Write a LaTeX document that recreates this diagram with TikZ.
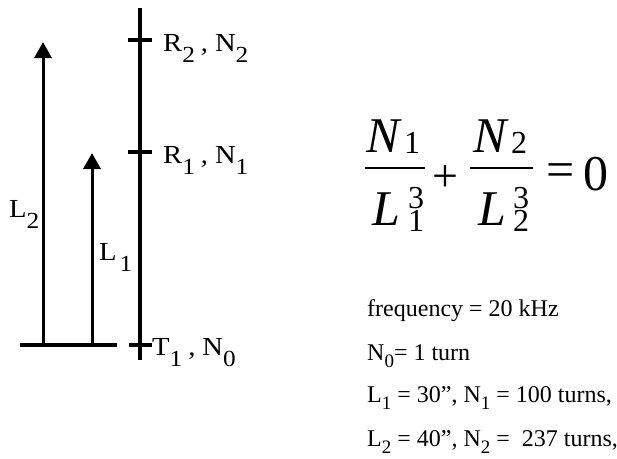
\documentclass[tikz,border=0pt]{standalone}
\usepackage{fontspec}
\setmainfont{Liberation Serif}
\newfontfamily\lblfont[FakeStretch=1.1]{Liberation Serif}
\usetikzlibrary{arrows.meta}
\newcommand\lsub[1]{\raisebox{-11pt}{\fontsize{23}{23}\selectfont #1}}
\newcommand\isub[1]{\raisebox{-7pt}{\fontsize{19}{19}\selectfont #1}}
\tikzset{
  thickline/.style={line width=3.2pt},
  uparrow/.style={line width=3pt,-{Triangle[length=16pt,width=17pt]}},
  lbl/.style={inner sep=0pt,anchor=base west,font=\lblfont\fontsize{26}{28}\selectfont},
  info/.style={inner sep=0pt,anchor=base west,font=\fontsize{24}{28}\selectfont},
  big/.style={inner sep=0pt,anchor=base west,font=\fontsize{50}{54}\selectfont},
  scr/.style={inner sep=0pt,anchor=base west,font=\fontsize{32}{34}\selectfont},
  barline/.style={line width=2pt},
}
\begin{document}
\begin{tikzpicture}[x=1pt,y=-1pt]
\useasboundingbox (0,0) rectangle (617,458);
% main vertical line
\coordinate (vtop) at (140,8);
\coordinate (vbot) at (140,360);
\draw[thickline] (vtop) -- (vbot);
% ticks
\coordinate (t2a) at (128,40); \coordinate (t2b) at (152,40);
\coordinate (t1a) at (128,152); \coordinate (t1b) at (152,152);
\coordinate (t0a) at (129,345); \coordinate (t0b) at (152,345);
\draw[thickline] (t2a) -- (t2b);
\draw[thickline] (t1a) -- (t1b);
\draw[thickline] (t0a) -- (t0b);
% base line
\coordinate (b0) at (20,345); \coordinate (b1) at (117,345);
\draw[thickline] (b0) -- (b1);
% arrows
\coordinate (a2s) at (43,345); \coordinate (a2e) at (43,42);
\coordinate (a1s) at (92,345); \coordinate (a1e) at (92,153);
\draw[uparrow] (a2s) -- (a2e);
\draw[uparrow] (a1s) -- (a1e);
% labels
\node[lbl] (R2) at (163,51) {R\lsub{2}\hspace{6pt},\hspace{7pt}N\lsub{2}};
\node[lbl] (R1) at (163,163) {R\lsub{1}\hspace{6pt},\hspace{7pt}N\lsub{1}};
\node[lbl] (T1) at (152,355) {T\lsub{1}\hspace{6pt},\hspace{7pt}N\lsub{0}};
\node[lbl] (L2) at (9,217) {L\lsub{2}};
\node[lbl] (L1) at (99,260) {L\hspace{3pt}\lsub{1}};
% equation
\node[big] (n1) at (366,152) {\itshape N};
\node[scr] (n1s) at (404,153) {1};
\draw[barline] (365,168) -- (425,168);
\node[big] (l1) at (372,225) {\itshape L};
\node[scr] (l1p) at (408,208) {3};
\node[scr] (l1s) at (408,231.5) {1};
\node[inner sep=0pt,font=\fontsize{46}{50}\selectfont] (plus) at (445,179) {+};
\node[big] (n2) at (473,152) {\itshape N};
\node[scr] (n2s) at (511,153) {2};
\draw[barline] (470,168) -- (533,168);
\node[big] (l2) at (478,225) {\itshape L};
\node[scr] (l2p) at (513,208) {3};
\node[scr] (l2s) at (513,231.5) {2};
\node[inner sep=0pt,font=\fontsize{50}{52}\selectfont] (eqs) at (561,175) {=};
\node[big] (zero) at (583,190) {0};
% info text
\node[info] (f) at (367,316) {frequency = 20 kHz};
\node[info] (n0) at (367,360) {N\isub{0}= 1 turn};
\node[info] (i1) at (367,402) {L\isub{1} = 30”, N\isub{1} = 100 turns,};
\node[info] (i2) at (367,446) {L\isub{2} = 40”, N\isub{2} =\ \ 237 turns,};
\end{tikzpicture}
\end{document}
